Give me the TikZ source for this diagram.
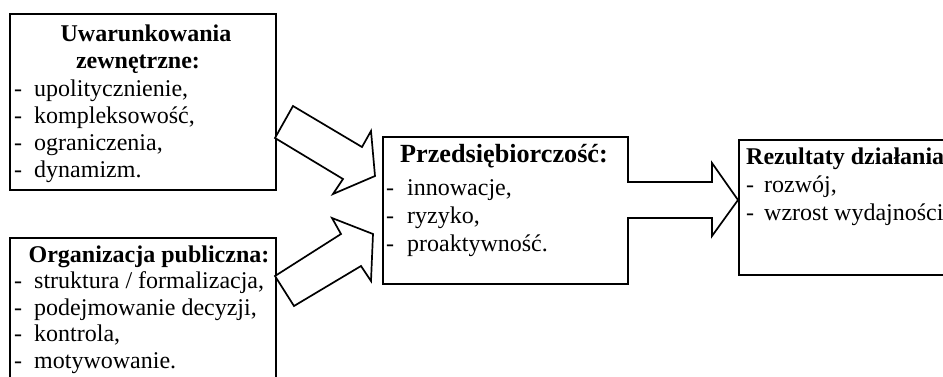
\documentclass[tikz,border=0pt]{standalone}
\usepackage{fontspec}
\setmainfont{Liberation Serif}
\begin{document}
\begin{tikzpicture}[x=1pt,y=-1pt,
  box/.style={draw, line width=1.7pt, inner sep=0pt, anchor=north west},
  blockarrow/.style={draw, fill=white, line width=1.7pt, line join=miter},
  txt/.style={inner sep=0pt, anchor=base west, font=\fontsize{24}{27.6}\selectfont},
  ttl/.style={inner sep=0pt, anchor=base, font=\bfseries\fontsize{24}{27.6}\selectfont},
  ttlw/.style={inner sep=0pt, anchor=base west, font=\bfseries\fontsize{24}{27.6}\selectfont},
  bigttl/.style={inner sep=0pt, anchor=base west, font=\bfseries\fontsize{26.2}{30}\selectfont}]
\useasboundingbox (0,0) rectangle (943,376);
\fill[white] (0,0) rectangle (943,376);

% boxes
\node[box, minimum width=266pt, minimum height=176pt] (b1) at (9,13) {};
\node[box, minimum width=266pt, minimum height=170pt] (b2) at (9,237) {};
\node[box, minimum width=245pt, minimum height=147pt] (b3) at (382,136) {};
\node[box, minimum width=230pt, minimum height=135pt] (b4) at (738,139) {};

% box 1 text
\node[ttl] (t1a) at (146,41) {Uwarunkowania};
\node[ttl] (t1b) at (138,68.5) {zewnętrzne:};
\node[txt] (d1a) at (14,96) {-};   \node[txt] (i1a) at (34,96) {upolitycznienie,};
\node[txt] (d1b) at (14,123.3) {-}; \node[txt] (i1b) at (34,123.3) {kompleksowość,};
\node[txt] (d1c) at (14,150.6) {-}; \node[txt] (i1c) at (34,150.6) {ograniczenia,};
\node[txt] (d1d) at (14,177.9) {-}; \node[txt] (i1d) at (34,177.9) {dynamizm.};

% box 2 text
\node[ttl] (t2) at (149,262) {Organizacja publiczna:};
\node[txt] (d2a) at (14,288.5) {-}; \node[txt] (i2a) at (34,288.5) {struktura / formalizacja,};
\node[txt] (d2b) at (14,315) {-};   \node[txt] (i2b) at (34,315) {podejmowanie decyzji,};
\node[txt] (d2c) at (14,341.5) {-}; \node[txt] (i2c) at (34,341.5) {kontrola,};
\node[txt] (d2d) at (14,368) {-};   \node[txt] (i2d) at (34,368) {motywowanie.};

% box 3 text
\node[bigttl] (t3) at (400,162) {Przedsiębiorczość:};
\node[txt] (d3a) at (386,195) {-}; \node[txt] (i3a) at (407,195) {innowacje,};
\node[txt] (d3b) at (386,223) {-}; \node[txt] (i3b) at (407,223) {ryzyko,};
\node[txt] (d3c) at (386,251) {-}; \node[txt] (i3c) at (407,251) {proaktywność.};

% box 4 text
\node[ttlw] (t4) at (746,164) {Rezultaty działania};
\node[txt] (d4a) at (746,192) {-};   \node[txt] (i4a) at (764,192) {rozwój,};
\node[txt] (d4b) at (746,220) {-}; \node[txt] (i4b) at (764,220) {wzrost wydajności};

% block arrows
\draw[blockarrow] (275,138) -- (293,106) -- (362,147) -- (371,131) -- (375,176)
  -- (333,194) -- (343,179) -- cycle;
\draw[blockarrow] (275,276) -- (294,306) -- (361,266) -- (371,281) -- (373,234)
  -- (332,218) -- (341,234) -- cycle;
\draw[blockarrow] (627,182) -- (712,182) -- (712,163) -- (738,200) -- (712,236)
  -- (712,218) -- (627,218);
\end{tikzpicture}
\end{document}
